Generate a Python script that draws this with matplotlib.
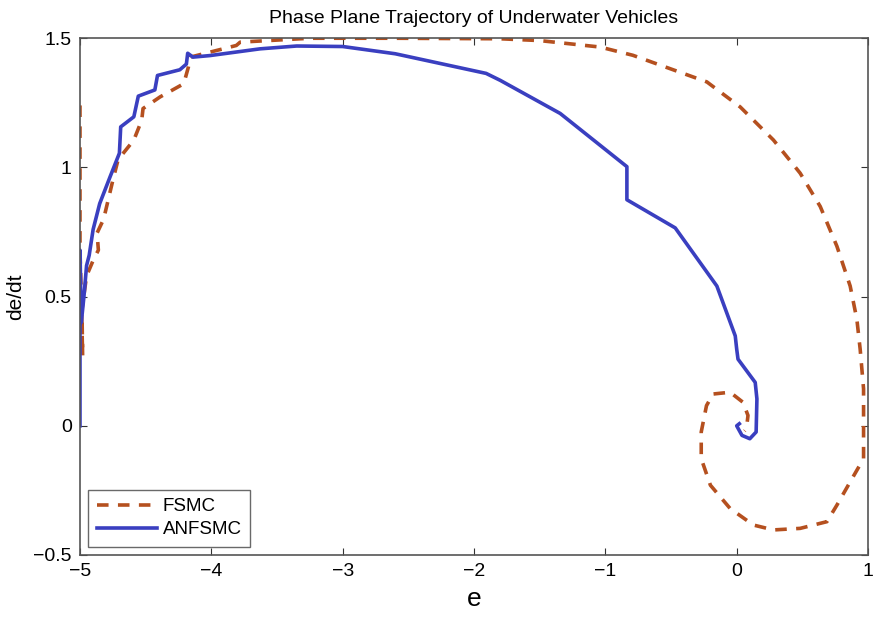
import numpy as np
import matplotlib
matplotlib.use("Agg")
import matplotlib.pyplot as plt

# ── data ────────────────────────────────────────────────────────────────────

fsmc_e = [-5.0, -5.0, -4.99, -4.98, -4.985, -4.95, -4.90, -4.86, -4.87, -4.82,
          -4.75, -4.71, -4.59, -4.53, -4.52, -4.39, -4.21, -4.175, -4.16, -3.81,
          -3.78, -3.25, -2.6, -1.80, -1.50, -1.04, -0.79, -0.227, 0.027, 0.28,
          0.483, 0.636, 0.763, 0.864, 0.915, 0.94, 0.966, 0.966, 0.864, 0.763,
          0.687, 0.483, 0.28, 0.127, -0.05, -0.20, -0.27, -0.27, -0.23, -0.18,
          -0.05, 0.048, 0.086, 0.074, 0.06]
fsmc_de = [1.24, 0.68, 0.50, 0.27, 0.45, 0.58, 0.64, 0.68, 0.746, 0.80,
           0.95, 1.03, 1.106, 1.183, 1.228, 1.273, 1.324, 1.388, 1.427, 1.472,
           1.485, 1.50, 1.50, 1.498, 1.491, 1.466, 1.434, 1.331, 1.234, 1.106,
           0.978, 0.849, 0.695, 0.541, 0.412, 0.297, 0.143, -0.127, -0.217, -0.307,
           -0.371, -0.397, -0.403, -0.384, -0.32, -0.23, -0.127, -0.024, 0.078, 0.123,
           0.13, 0.091, 0.04, -0.012, -0.02]

anf_e = [-5.0, -5.0, -4.99, -4.97, -4.95, -4.93, -4.90, -4.85, -4.77, -4.70,
         -4.69, -4.59, -4.556, -4.43, -4.41, -4.24, -4.19, -4.18, -4.14, -4.01,
         -3.63, -3.35, -3.0, -2.6, -1.908, -1.80, -1.344, -0.836, -0.836, -0.468,
         -0.151, -0.011, 0.0, 0.01, 0.141, 0.154, 0.148, 0.10, 0.04, 0.0, 0.02]
anf_de = [0.0, 0.68, 0.40, 0.50, 0.62, 0.66, 0.76, 0.86, 0.965, 1.055,
          1.157, 1.196, 1.276, 1.30, 1.356, 1.378, 1.40, 1.442, 1.427, 1.433,
          1.459, 1.47, 1.468, 1.44, 1.364, 1.337, 1.209, 1.003, 0.875, 0.766,
          0.541, 0.348, 0.297, 0.258, 0.168, 0.104, -0.024, -0.05, -0.037, 0.0, 0.008]

xticks = [-5, -4, -3, -2, -1, 0, 1]
yticks = [-0.5, 0, 0.5, 1, 1.5]
yticklabels = ["\u22120.5", "0", "0.5", "1", "1.5"]

# ── chart ───────────────────────────────────────────────────────────────────

plt.rcParams["font.family"] = ["Liberation Sans", "DejaVu Sans"]

fig = plt.figure(figsize=(8.8, 6.17), dpi=100)
ax = fig.add_axes([0.0909, 0.1005, 0.8955, 0.8375])

ax.plot(fsmc_e, fsmc_de, color="#b5501f", linewidth=2.6, linestyle=(0, (3.2, 2.6)),
        label="FSMC")
ax.plot(anf_e, anf_de, color="#3a3fc0", linewidth=2.6, label="ANFSMC")

ax.set_xlim(-5, 1)
ax.set_ylim(-0.5, 1.5)
ax.set_xticks(xticks)
ax.set_xticklabels(["\u2212%d" % -t if t < 0 else str(t) for t in xticks])
ax.set_yticks(yticks)
ax.set_yticklabels(yticklabels)
ax.tick_params(direction="in", top=True, right=True, length=5, width=0.8,
               labelsize=14, colors="#333333", labelcolor="black")
ax.tick_params(axis="x", pad=6)
ax.tick_params(axis="y", pad=6)
for spine in ax.spines.values():
    spine.set_edgecolor("#555555")
    spine.set_linewidth(1.2)

ax.set_xlabel("e", fontsize=19, labelpad=5)
ax.set_ylabel("de/dt", fontsize=15, labelpad=6)
ax.set_title("Phase Plane Trajectory of Underwater Vehicles", fontsize=14, pad=11)

leg = ax.legend(loc="lower left", fontsize=13.5, frameon=True, fancybox=False,
                handlelength=3.2, borderaxespad=0.45, handletextpad=0.3,
                labelspacing=0.3, borderpad=0.45)
leg.get_frame().set_edgecolor("#444444")
leg.get_frame().set_linewidth(1.0)

plt.savefig("out.png", dpi=100)
